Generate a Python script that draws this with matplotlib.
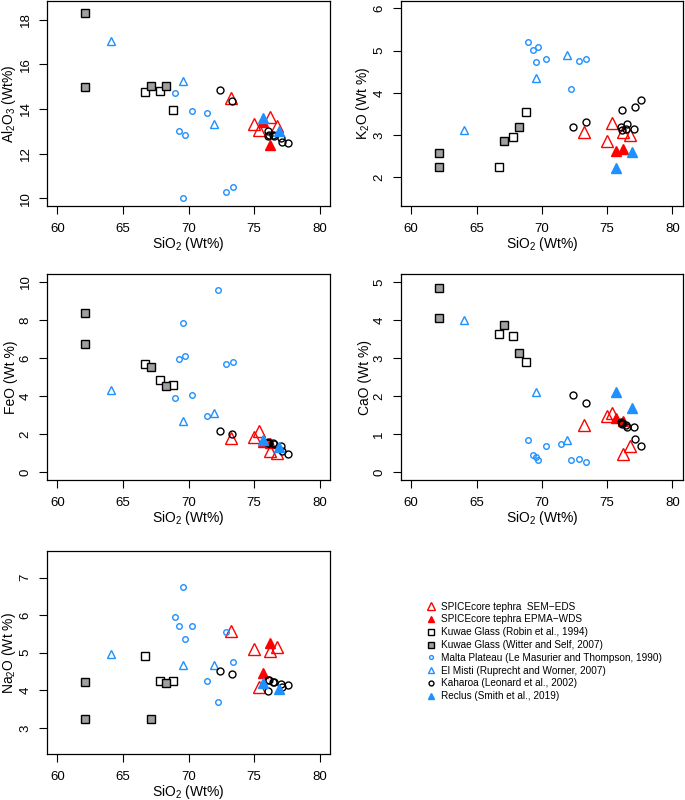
import matplotlib
matplotlib.use("Agg")
import matplotlib.pyplot as plt
from matplotlib.lines import Line2D
import numpy as np

plt.rcParams['font.family'] = ['Liberation Sans', 'DejaVu Sans']
plt.rcParams['mathtext.default'] = 'regular'

nan = np.nan

# SPICEcore tephra SEM-EDS
sem_si = [73.25, 75.0, 75.35, 76.25, 76.75]
sem_al = [14.51, 13.33, 13.05, 13.65, 13.24]
sem_k = [3.07, 2.85, 3.28, 3.08, 3.0]
sem_fe = [1.80, 1.85, 2.2, 1.12, 1.0]
sem_ca = [1.25, 1.49, 1.55, 0.48, 0.69]
sem_na = [5.57, 5.09, 4.08, 5.06, 5.16]

# SPICEcore tephra EPMA-WDS
epma_si = [75.7, 76.2]
epma_al = [13.42, 12.38]
epma_k = [2.62, 2.66]
epma_fe = [1.62, 1.55]
epma_ca = [1.43, 1.36]
epma_na = [4.45, 5.27]

# Kuwae Glass (Robin et al., 1994)
robin_si = [66.7, 67.8, 68.8]
robin_al = [14.75, 14.81, 13.95]
robin_k = [2.24, 2.96, 3.54]
robin_fe = [5.69, 4.84, 4.61]
robin_ca = [3.63, 3.58, 2.90]
robin_na = [4.91, 4.25, 4.25]

# Kuwae Glass (Witter and Self, 2007)
witter_si = [62.1, 62.1, 67.1, 68.25]
witter_al = [18.3, 15.0, 15.05, 15.05]
witter_k = [2.58, 2.24, 2.86, 3.20]
witter_fe = [8.36, 6.76, 5.53, 4.52]
witter_ca = [4.85, 4.05, 3.87, 3.13]
witter_na = [4.23, 3.23, 3.23, 4.19]

# Malta Plateau (Le Masurier and Thompson, 1990)
malta_si = [68.95, 69.3, 69.58, 69.7, 70.3, 71.43, 72.25, 72.85, 73.37]
malta_al = [14.72, 13.0, 10.03, 12.84, 13.90, 13.81, nan, 10.27, 10.52]
malta_k = [5.21, 5.02, 4.72, 5.09, 4.81, nan, 4.08, 4.76, 4.81]
malta_fe = [3.93, 5.95, 7.83, 6.13, 4.08, 2.96, 9.60, 5.70, 5.79]
malta_ca = [0.85, 0.46, 0.40, 0.33, 0.68, 0.74, 0.32, 0.34, 0.27]
malta_na = [5.94, 5.70, 6.75, 5.38, 5.72, 4.26, 3.68, 5.56, 4.76]

# El Misti (Ruprecht and Worner, 2007)
misti_si = [64.05, 69.58, 71.95]
misti_al = [17.05, 15.27, 13.35]
misti_k = [3.12, 4.35, 4.90]
misti_fe = [4.35, 2.69, 3.10]
misti_ca = [4.01, 2.10, 0.85]
misti_na = [4.96, 4.67, 4.68]

# Kaharoa (Leonard et al., 2002)
kah_si = [72.4, 73.35, 76.05, 76.1, 76.15, 76.55, 77.05, 77.1, 77.6, 76.45]
kah_al = [14.86, 14.36, 13.0, 12.78, 12.85, 12.8, 12.68, 12.53, 12.46, 12.85]
kah_k = [3.18, 3.31, 3.19, 3.60, 3.13, 3.26, 3.14, 3.67, 3.83, 3.15]
kah_fe = [2.17, 2.04, 1.55, 1.58, 1.52, 1.50, 1.38, 1.10, 0.98, 1.55]
kah_ca = [2.04, 1.81, 1.33, 1.30, 1.28, 1.20, 1.18, 0.88, 0.68, 1.25]
kah_na = [4.52, 4.44, 4.29, 3.98, 4.27, 4.23, 4.18, 4.10, 4.15, 4.22]

# Reclus (Smith et al., 2019)
reclus_si = [75.7, 76.9]
reclus_al = [13.6, 13.0]
reclus_k = [2.21, 2.59]
reclus_fe = [1.68, 1.35]
reclus_ca = [2.12, 1.70]
reclus_na = [4.19, 4.04]

blue = "#1E90FF"
grey = "#a0a0a0"

# marker styles for each dataset: label, marker, size, face, edge
styles = [
    ("SPICEcore tephra  SEM\u2212EDS", "^", 8.5, "none", "red"),
    ("SPICEcore tephra EPMA\u2212WDS", "^", 7.0, "red", "red"),
    ("Kuwae Glass (Robin et al., 1994)", "s", 6.0, "white", "black"),
    ("Kuwae Glass (Witter and Self, 2007)", "s", 5.5, grey, "black"),
    ("Malta Plateau (Le Masurier and Thompson, 1990)", "o", 4.0, "none", blue),
    ("El Misti (Ruprecht and Worner, 2007)", "^", 5.5, "none", blue),
    ("Kaharoa (Leonard et al., 2002)", "o", 5.0, "none", "black"),
    ("Reclus (Smith et al., 2019)", "^", 6.5, blue, blue),
]

si_sets = [sem_si, epma_si, robin_si, witter_si, malta_si, misti_si, kah_si, reclus_si]
panels = [
    ("Al$_2$O$_3$ (Wt%)", [sem_al, epma_al, robin_al, witter_al, malta_al, misti_al, kah_al, reclus_al],
     (10, 18.5), [10, 12, 14, 16, 18], [0.0686, 0.7425, 0.4132, 0.2565]),
    ("K$_2$O (Wt %)", [sem_k, epma_k, robin_k, witter_k, malta_k, misti_k, kah_k, reclus_k],
     (1.5, 6.0), [2, 3, 4, 5, 6], [0.585, 0.7425, 0.412, 0.2565]),
    ("FeO (Wt %)", [sem_fe, epma_fe, robin_fe, witter_fe, malta_fe, misti_fe, kah_fe, reclus_fe],
     (0, 10), [0, 2, 4, 6, 8, 10], [0.0686, 0.400, 0.4132, 0.257]),
    ("CaO (Wt %)", [sem_ca, epma_ca, robin_ca, witter_ca, malta_ca, misti_ca, kah_ca, reclus_ca],
     (0, 5), [0, 1, 2, 3, 4, 5], [0.585, 0.400, 0.412, 0.257]),
    ("Na$_2$O (Wt %)", [sem_na, epma_na, robin_na, witter_na, malta_na, misti_na, kah_na, reclus_na],
     (2.5, 7.5), [3, 4, 5, 6, 7], [0.0686, 0.057, 0.4132, 0.254]),
]

fig = plt.figure(figsize=(6.85, 8), dpi=100)

for ylabel, ysets, (y0, y1), yticks, pos in panels:
    ax = fig.add_axes(pos)
    for (lab, m, ms, fc, ec), xs, ys in zip(styles, si_sets, ysets):
        ax.plot(xs, ys, linestyle="none", marker=m, ms=ms, mfc=fc, mec=ec, mew=1.0)
    dy = (y1 - y0) * 0.04
    ax.set_xlim(59.2, 80.8)
    ax.set_ylim(y0 - dy, y1 + dy)
    ax.set_xticks([60, 65, 70, 75, 80])
    ax.set_yticks(yticks)
    ax.tick_params(direction="out", length=6, width=0.8, pad=6, labelsize=9.5)
    ax.tick_params(axis="y", labelrotation=90, pad=5)
    for lbl in ax.get_yticklabels():
        lbl.set_verticalalignment("center")
    for s in ax.spines.values():
        s.set_linewidth(0.9)
    ax.set_xlabel("SiO$_2$ (Wt%)", fontsize=10, labelpad=0)
    ax.set_ylabel(ylabel, fontsize=10, labelpad=1)

handles = [Line2D([], [], linestyle="none", marker=m, ms=ms * 0.7, mfc=fc, mec=ec, mew=1.0)
           for (lab, m, ms, fc, ec) in styles]
labels = [s[0] for s in styles]
fig.legend(handles, labels, loc="upper left", bbox_to_anchor=(0.622, 0.248),
           frameon=False, fontsize=7.2, handlelength=1.0, handletextpad=0.5,
           labelspacing=0.28, borderpad=0, borderaxespad=0)

fig.savefig("out.png", dpi=100)
